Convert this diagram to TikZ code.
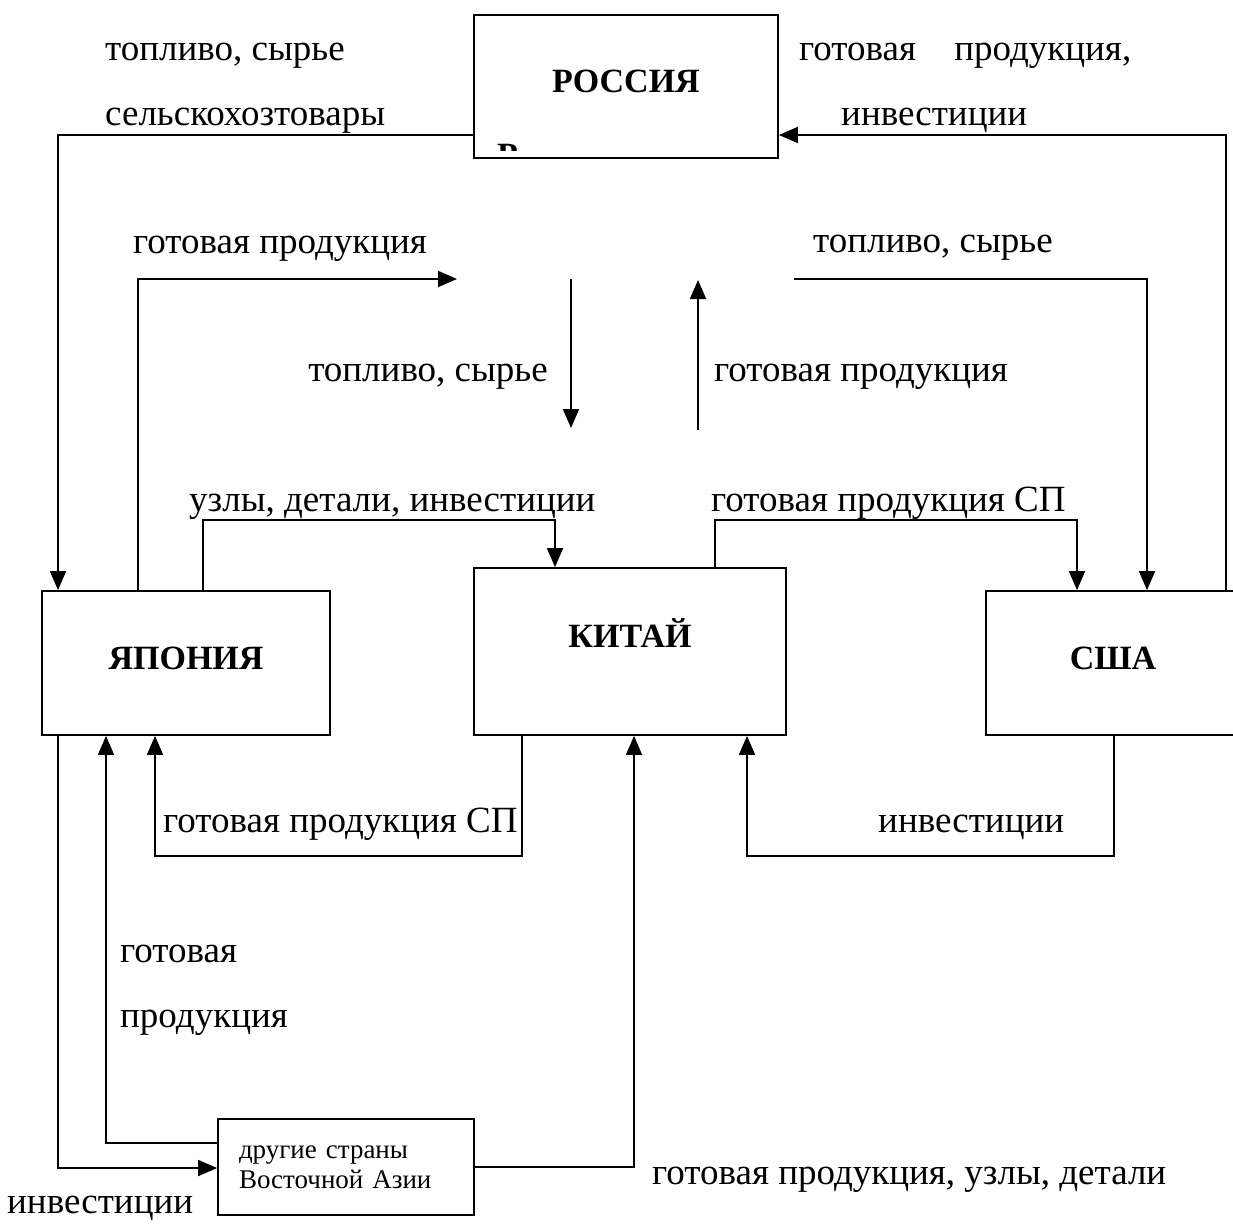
\documentclass[tikz,border=0pt]{standalone}
\usepackage{fontspec}
\setmainfont{Liberation Serif}
\usetikzlibrary{arrows.meta}

\begin{document}
\begin{tikzpicture}[x=1pt, y=-1pt,
    arr/.style={line width=1.8pt, -{Triangle[length=19pt,width=16pt]}},
    box/.style={draw, line width=1.8pt, inner sep=0pt, text depth=10pt, font=\fontsize{34}{38}\selectfont\bfseries},
    lbl/.style={inner sep=0pt, anchor=base west, font=\fontsize{37}{44}\selectfont}]
    \useasboundingbox (0,0) rectangle (1233,1223);
    \clip (0,0) rectangle (1233,1223);
    \node(rus)[box, minimum width=304pt, minimum height=143pt] at (626,86.5) {РОССИЯ};
    \node(jap)[box, minimum width=288pt, minimum height=144pt] at (186,663) {ЯПОНИЯ};
    \node(chi)[box, minimum width=312pt, minimum height=167pt, text depth=36pt] at (630,651.5) {КИТАЙ};
    \node(usa)[box, minimum width=254pt, minimum height=144pt] at (1113,663) {США};
    \node(asia)[draw, line width=1.8pt, minimum width=256pt, minimum height=96pt, inner xsep=21pt, text width=214pt, align=left, font=\fontsize{27}{30}\selectfont] at (346,1167) {другие страны\\Восточной Азии};
    \begin{scope}
    \clip (476,140) rectangle (776,150);
    \node(rusR)[inner sep=0pt, anchor=north west, font=\fontsize{34}{38}\selectfont\bfseries] at (497,144) {Р};
    \end{scope}
    \coordinate(a1) at (457,279);
    \coordinate(a2) at (794,279);
    \coordinate(d1) at (571,279);
    \coordinate(d2) at (571,428);
    \coordinate(u1) at (698,430);
    \coordinate(u2) at (698,280);
    \draw[arr] (rus.west |- 0,135) -| (jap.north -| 58,0);
    \draw[arr] (usa.north -| 1226,0) |- (rus.east |- 0,135);
    \draw[arr] (jap.north -| 138,0) |- (a1);
    \draw[arr] (a2) -| (usa.north -| 1147,0);
    \draw[arr] (d1) -- (d2);
    \draw[arr] (u1) -- (u2);
    \draw[arr] (jap.north -| 203,0) -- (203,520) -| (chi.north -| 555,0);
    \draw[arr] (chi.north -| 715,0) -- (715,520) -| (usa.north -| 1077,0);
    \draw[arr] (chi.south -| 522,0) -- (522,856) -| (jap.south -| 155,0);
    \draw[arr] (usa.south -| 1114,0) -- (1114,856) -| (chi.south -| 747,0);
    \draw[arr] (jap.south -| 58,0) |- (asia.west |- 0,1168);
    \draw[arr] (asia.west |- 0,1143) -| (jap.south -| 106,0);
    \draw[arr] (asia.east |- 0,1167) -| (chi.south -| 634,0);
    \node(t1)[lbl] at (105,60) {топливо, сырье};
    \node(t2)[lbl] at (105,125) {сельскохозтовары};
    \node(t3)[lbl] at (799,60) {готовая\hspace{29pt} продукция,};
    \node(t4)[lbl] at (841,125) {инвестиции};
    \node(t5)[lbl] at (133,253) {готовая продукция};
    \node(t6)[lbl] at (813,252) {топливо, сырье};
    \node(t7)[lbl, anchor=base east] at (548,381) {топливо, сырье};
    \node(t8)[lbl] at (714,381) {готовая продукция};
    \node(t9)[lbl] at (189,511) {узлы, детали, инвестиции};
    \node(t10)[lbl] at (711,511) {готовая продукция СП};
    \node(t11)[lbl] at (163,832) {готовая продукция СП};
    \node(t12)[lbl] at (878,832) {инвестиции};
    \node(t13)[lbl] at (120,962) {готовая};
    \node(t14)[lbl] at (120,1027) {продукция};
    \node(t15)[lbl] at (652,1184) {готовая продукция, узлы, детали};
    \node(t16)[lbl] at (7,1213) {инвестиции};
\end{tikzpicture}
\end{document}
